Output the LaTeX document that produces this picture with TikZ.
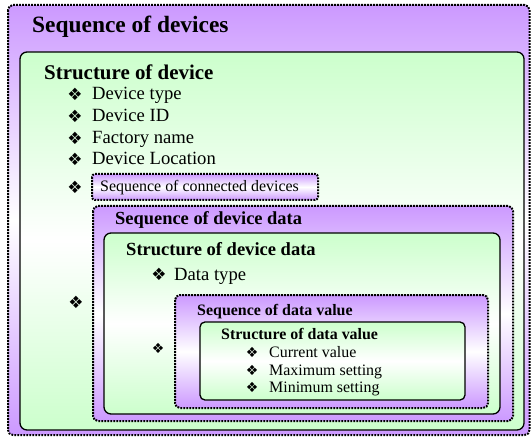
\documentclass[tikz,border=0pt]{standalone}
\usepackage{fontspec}
\setmainfont{Liberation Serif}
\newfontfamily\dingfont{DejaVu Sans}
\usetikzlibrary{positioning}

\definecolor{lavender}{HTML}{CC99FF}
\definecolor{mint}{HTML}{CCFFCC}

\tikzset{
    seqbox/.style={draw=black, line width=2bp, dash pattern=on 1.8bp off 1.2bp,
        rounded corners=5pt, top color=lavender, bottom color=lavender, middle color=white},
    structbox/.style={draw=black, line width=1.3bp, rounded corners=7pt,
        top color=mint, bottom color=mint, middle color=white},
    txt/.style={anchor=base west, inner sep=0pt},
    bigbullet/.style={inner sep=0pt, font=\dingfont\fontsize{17}{17}\selectfont},
    smallbullet/.style={inner sep=0pt, font=\dingfont\fontsize{14}{14}\selectfont}
}

\begin{document}
\begin{tikzpicture}[x=1bp, y=1bp]
        \useasboundingbox (0,0) rectangle (531,-437);

        % sequence of devices
        \draw[seqbox] (8,-5) rectangle (529.5,-435);
        \node[txt, font=\bfseries\fontsize{23.5}{24}\selectfont] (seqdev) at (32,-33) {Sequence of devices};

        % structure of device
        \draw[structbox] (20,-52) rectangle (524,-430);
        \node[txt, font=\bfseries\fontsize{21}{22}\selectfont] (structdev) at (44,-80) {Structure of device};

        % device fields
        \node[bigbullet] (b1) at (75,-94) {❖};
        \node[txt, font=\fontsize{18.7}{20}\selectfont] (devtype) at (92,-100) {Device type};
        \node[bigbullet] (b2) at (75,-116) {❖};
        \node[txt, font=\fontsize{18.7}{20}\selectfont] (devid) at (92,-122) {Device ID};
        \node[bigbullet] (b3) at (75,-138) {❖};
        \node[txt, font=\fontsize{18.7}{20}\selectfont] (factory) at (92,-144) {Factory name};
        \node[bigbullet] (b4) at (75,-159) {❖};
        \node[txt, font=\fontsize{18.7}{20}\selectfont] (location) at (92,-165) {Device Location};

        % connected devices
        \node[bigbullet] (b5) at (75,-187) {❖};
        \draw[seqbox, rounded corners=3pt] (92,-174) rectangle (318,-200);
        \node[txt, font=\fontsize{16}{17}\selectfont] (connected) at (100,-192) {Sequence of connected devices};

        % sequence of device data
        \node[bigbullet] (b6) at (76,-302) {❖};
        \draw[seqbox] (93,-206) rectangle (513,-421);
        \node[txt, font=\bfseries\fontsize{18.5}{19}\selectfont] (seqdata) at (115,-225) {Sequence of device data};

        % structure of device data
        \draw[structbox] (104,-233) rectangle (500,-414);
        \node[txt, font=\bfseries\fontsize{18.6}{19}\selectfont] (structdata) at (126,-256) {Structure of device data};
        \node[bigbullet] (b7) at (159,-274) {❖};
        \node[txt, font=\fontsize{18.7}{20}\selectfont] (datatype) at (174,-280) {Data type};

        % sequence of data value
        \node[smallbullet] (b8) at (158,-348) {❖};
        \draw[seqbox] (175,-295) rectangle (488,-408);
        \node[txt, font=\bfseries\fontsize{16}{17}\selectfont] (seqval) at (197,-315) {Sequence of data value};

        % structure of data value
        \draw[structbox, rounded corners=5pt] (200,-322) rectangle (465,-400);
        \node[txt, font=\bfseries\fontsize{16}{17}\selectfont] (structval) at (221,-339) {Structure of data value};
        \node[smallbullet] (b9) at (252,-352) {❖};
        \node[txt, font=\fontsize{16}{17}\selectfont] (current) at (269,-357) {Current value};
        \node[smallbullet] (b10) at (252,-370) {❖};
        \node[txt, font=\fontsize{16}{17}\selectfont] (maximum) at (269,-375) {Maximum setting};
        \node[smallbullet] (b11) at (252,-387) {❖};
        \node[txt, font=\fontsize{16}{17}\selectfont] (minimum) at (269,-392) {Minimum setting};
    \end{tikzpicture}
\end{document}
